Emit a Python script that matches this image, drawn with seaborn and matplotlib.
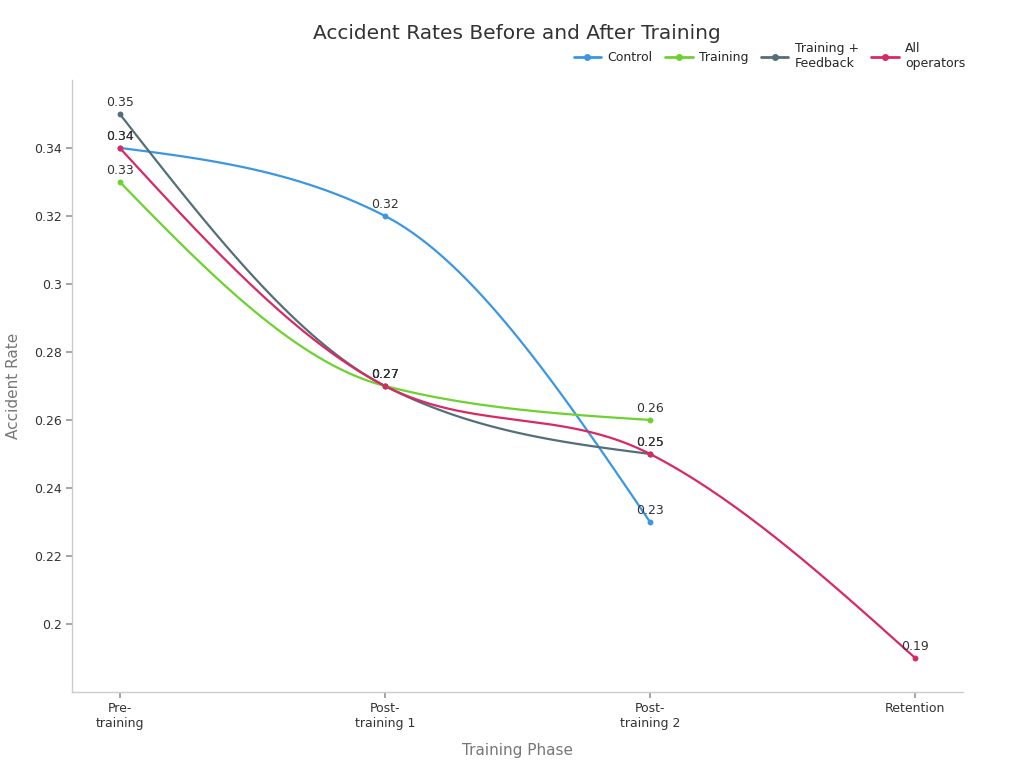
import numpy as np
import pandas as pd
import matplotlib
matplotlib.use('Agg')
import matplotlib.pyplot as plt
import seaborn as sns
from matplotlib.lines import Line2D
from matplotlib.ticker import FuncFormatter

# Data
phases = ['Pre-\ntraining', 'Post-\ntraining 1', 'Post-\ntraining 2', 'Retention']
series_names = ['Control', 'Training', 'Training +\nFeedback', 'All\noperators']
control = [0.34, 0.32, 0.23]
training = [0.33, 0.27, 0.26]
training_feedback = [0.35, 0.27, 0.25]
all_operators = [0.34, 0.27, 0.25, 0.19]
colors = ['#3b97e3', '#6dd22f', '#546e7a', '#d72a63']

series_values = [control, training, training_feedback, all_operators]


def monotone_curve(y, n=60):
    # monotone cubic path through the points (same shape as d3 curveMonotoneX)
    y = np.asarray(y, dtype=float)
    x = np.arange(len(y), dtype=float)
    if len(y) < 3:
        return x, y
    s = np.diff(y)
    t = np.zeros(len(y))
    for i in range(1, len(y) - 1):
        p = (s[i - 1] + s[i]) / 2
        t[i] = (np.sign(s[i - 1]) + np.sign(s[i])) * min(abs(s[i - 1]), abs(s[i]), 0.5 * abs(p))
    t[0] = (3 * s[0] - t[1]) / 2
    t[-1] = (3 * s[-1] - t[-2]) / 2
    xs, ys = [], []
    for i in range(len(y) - 1):
        u = np.linspace(0, 1, n)
        h00 = 2 * u**3 - 3 * u**2 + 1
        h10 = u**3 - 2 * u**2 + u
        h01 = -2 * u**3 + 3 * u**2
        h11 = u**3 - u**2
        xs.append(x[i] + u)
        ys.append(h00 * y[i] + h10 * t[i] + h01 * y[i + 1] + h11 * t[i + 1])
    return np.concatenate(xs), np.concatenate(ys)


sns.set_theme(style='white')
plt.rcParams['font.family'] = ['DejaVu Sans']

fig = plt.figure(figsize=(10.24, 7.68), dpi=100)
ax = fig.add_axes([0.0703, 0.099, 0.870, 0.797])

for name, vals, col in zip(series_names, series_values, colors):
    cx, cy = monotone_curve(vals)
    sns.lineplot(x=cx, y=cy, ax=ax, color=col, linewidth=1.6, sort=False)
    df = pd.DataFrame({'x': np.arange(len(vals)), 'y': vals})
    sns.scatterplot(data=df, x='x', y='y', ax=ax, color=col, s=18, edgecolor=col, linewidth=0, zorder=3)
    for xi, yi in zip(df['x'], df['y']):
        ax.annotate(f'{yi:.2f}', (xi, yi), xytext=(0, 3.5), textcoords='offset points',
                    ha='center', va='bottom', fontsize=9, color='#333333')

ax.set_xlim(-0.18, 3.18)
ax.set_ylim(0.18, 0.36)
ax.set_xticks(range(len(phases)))
ax.set_xticklabels(phases, fontsize=9, color='#333333')
ax.set_yticks(np.arange(0.20, 0.345, 0.02))
ax.yaxis.set_major_formatter(FuncFormatter(lambda v, p: f'{round(v, 2):g}'))
ax.tick_params(axis='y', labelsize=9, labelcolor='#333333', length=4, color='#999999', left=True)
ax.tick_params(axis='x', length=4, color='#999999', bottom=True)
ax.set_xlabel('Training Phase', fontsize=11, color='#777777', labelpad=9)
ax.set_ylabel('Accident Rate', fontsize=11, color='#777777', labelpad=9)

for side in ['top', 'right']:
    ax.spines[side].set_visible(False)
for side in ['left', 'bottom']:
    ax.spines[side].set_color('#cccccc')
    ax.spines[side].set_linewidth(1)

fig.text(0.505, 0.957, 'Accident Rates Before and After Training', ha='center', va='center',
         fontsize=14.5, color='#333333')

handles = [Line2D([0], [0], color=c, linewidth=2, marker='o', markersize=4) for c in colors]
fig.legend(handles, series_names, loc='upper right', bbox_to_anchor=(0.945, 0.948), ncol=4,
           frameon=False, fontsize=9, handlelength=2.2, columnspacing=1.0, handletextpad=0.5,
           borderaxespad=0, borderpad=0.2)

fig.savefig('out.png', dpi=100)
